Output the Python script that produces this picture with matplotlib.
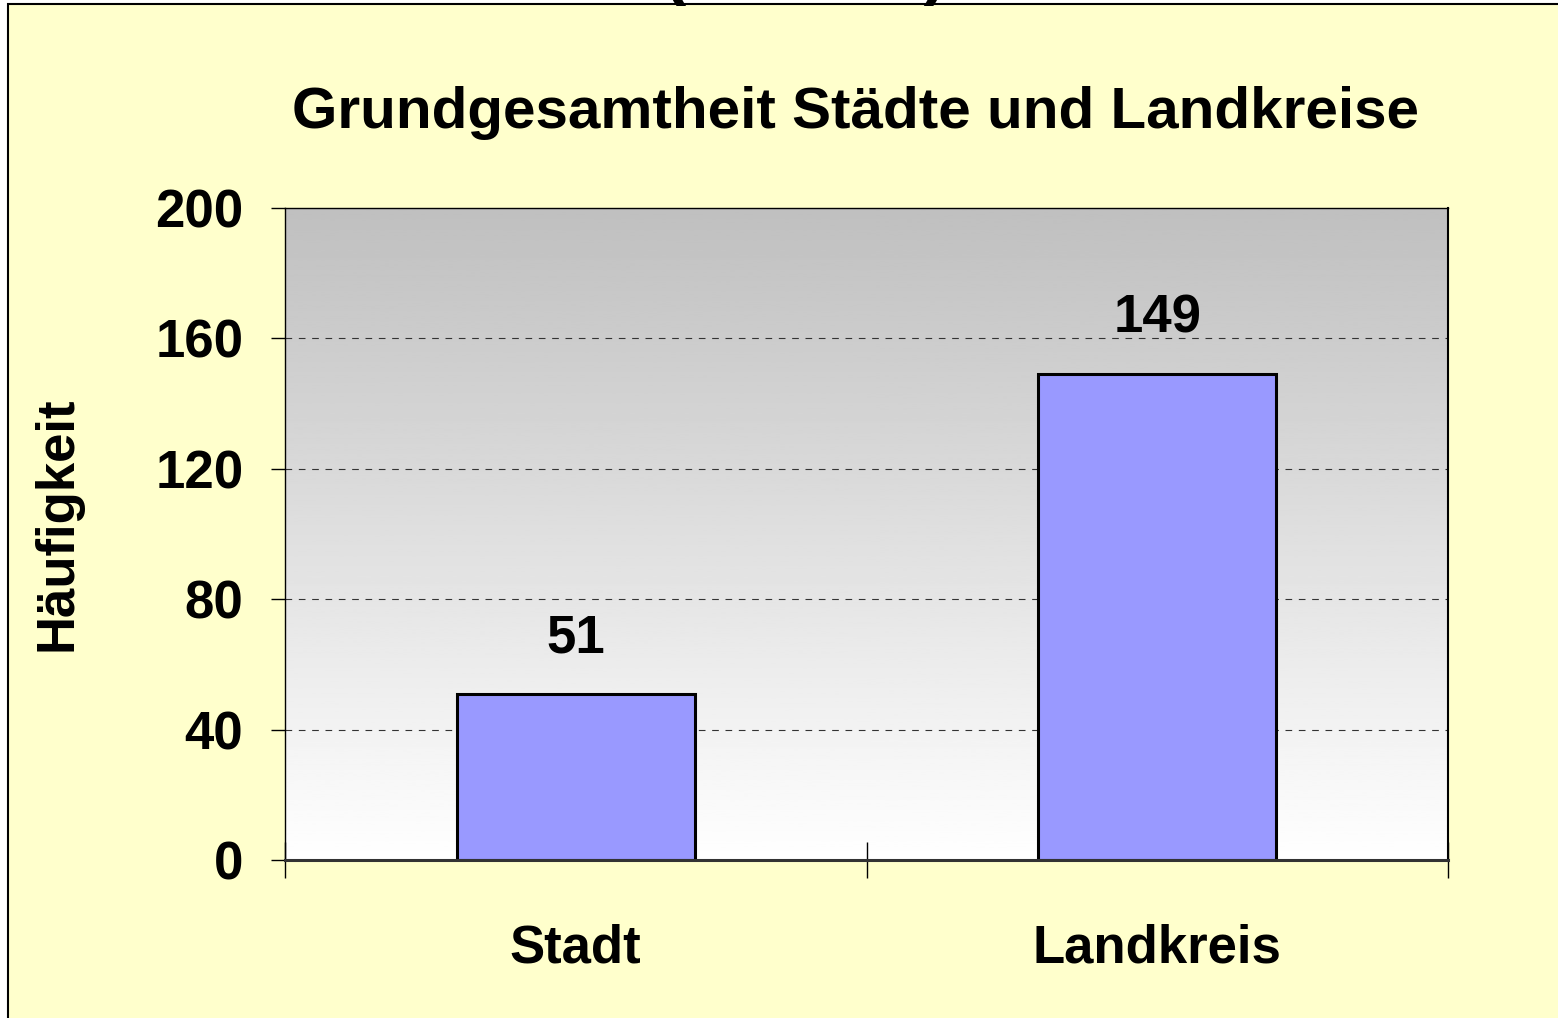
import numpy as np
import matplotlib
matplotlib.use("Agg")
import matplotlib.pyplot as plt
from matplotlib.patches import Rectangle

# data
categories = ["Stadt", "Landkreis"]
counts = [51, 149]
yticks = [0, 40, 80, 120, 160, 200]

plt.rcParams["font.family"] = ["Liberation Sans", "DejaVu Sans"]
plt.rcParams["font.weight"] = "bold"

W, H = 1558, 1018
fig = plt.figure(figsize=(W / 100, H / 100), dpi=100)
fig.patch.set_facecolor("white")

# yellow chart area with black frame (left / top edges visible)
fig.patches.append(Rectangle((8 / W, -0.05), 1.1, 1 - 4 / H + 0.05,
                             transform=fig.transFigure, facecolor="#FFFFCC",
                             edgecolor="black", linewidth=1.5, zorder=-10))

# cut-off heading at the very top
fig.text(805 / W, 1 + 8 / H, "(n = 200)", ha="center", va="baseline",
         fontsize=50, fontweight="bold")

ax = fig.add_axes([285 / W, 1 - 860 / H, (1448 - 285) / W, (860 - 208) / H])
ax.set_facecolor("none")

# grey (top) -> white (bottom) gradient background
grad = np.linspace(0.75, 1.0, 256).reshape(-1, 1)
ax.imshow(grad, cmap="gray", vmin=0, vmax=1, aspect="auto",
          extent=(-0.5, 1.5, 0, 200), origin="upper", zorder=0)

x = np.arange(len(categories))
bars = ax.bar(x, counts, width=0.41, color="#9999FF", edgecolor="black",
              linewidth=2.2, zorder=3)

for xi, v in zip(x, counts):
    ax.annotate(str(v), xy=(xi, v), xytext=(0, 40), textcoords="offset points",
                ha="center", va="center", fontsize=38, fontweight="bold")

ax.set_xlim(-0.5, 1.5)
ax.set_ylim(0, 200)
ax.set_yticks(yticks)
ax.set_yticklabels([str(t) for t in yticks], fontsize=38, fontweight="bold")
ax.tick_params(axis="y", length=10, width=1, direction="out", pad=20)

for t in yticks[1:-1]:
    ax.axhline(t, color="#333333", linestyle=(0, (6, 6)), linewidth=0.8, zorder=1)

ax.set_xticks(x)
ax.set_xticklabels(categories, fontsize=38, fontweight="bold")
ax.tick_params(axis="x", which="major", length=0, pad=46)
ax.set_xticks([-0.5, 0.5, 1.5], minor=True)
ax.tick_params(axis="x", which="minor", length=26, width=1, direction="inout")

ax.spines["left"].set_linewidth(1)
ax.spines["top"].set_linewidth(1)
ax.spines["right"].set_linewidth(1.5)
ax.spines["bottom"].set_linewidth(2.2)
ax.spines["bottom"].set_color("#333333")
for s in ax.spines.values():
    s.set_zorder(4)

ax.set_ylabel("Häufigkeit", fontsize=38, fontweight="bold", labelpad=52)
ax.yaxis.label.set_y(0.515)
fig.text(855 / W, 1 - 113 / H, "Grundgesamtheit Städte und Landkreise",
         ha="center", va="center", fontsize=42, fontweight="bold")

fig.savefig("out.png", dpi=100, facecolor=fig.get_facecolor())
